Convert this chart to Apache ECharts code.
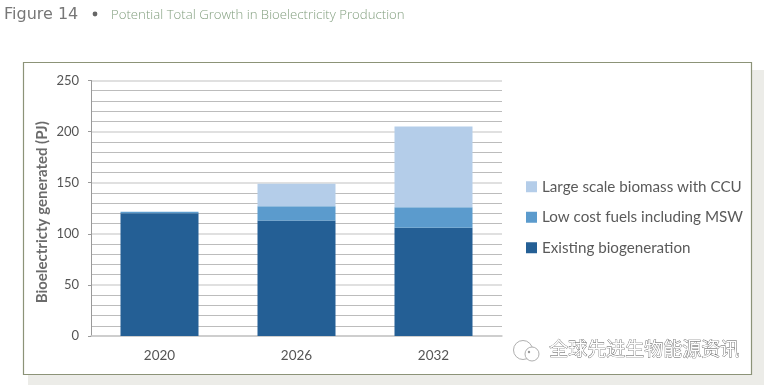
<!DOCTYPE html>
<html><head><meta charset="utf-8">
<style>html,body{margin:0;padding:0;background:#fff}#c{width:764px;height:385px}</style>
<script src="https://cdn.jsdelivr.net/npm/echarts@6/dist/echarts.min.js"></script>
</head><body><div id="c"></div>
<script>
const categories = ['2020','2026','2032'];
const existing = [120,113,106];
const lowCost = [1.5,14,20];
const largeScale = [0,22,79];
const seriesNames = ['Existing biogeneration','Low cost fuels including MSW','Large scale biomass with CCU'];
const legendOrder = ['Large scale biomass with CCU','Low cost fuels including MSW','Existing biogeneration'];
const chart = echarts.init(document.getElementById('c'));
const f = 'Lato, "Open Sans", sans-serif';
const bar = (name,data,color)=>({name,type:'bar',stack:'t',data,barWidth:78,itemStyle:{color},emphasis:{disabled:true}});
chart.setOption({
  animation:false,
  backgroundColor:'#ffffff',
  title:{text:'Potential Total Growth in Bioelectricity Production',left:106,top:4,
    textStyle:{fontFamily:'"Open Sans", sans-serif',fontSize:13.2,fontWeight:300,color:'#84a080'}},
  graphic:[
    {type:'rect',z:-3,shape:{x:28,y:70,width:736,height:315},style:{fill:'#ecece8'}},
    {type:'rect',z:-2,shape:{x:23.5,y:62.5,width:728,height:312},style:{fill:'#ffffff',stroke:'#8c9378',lineWidth:1.2}},
    {type:'text',left:4,top:7,style:{text:'Figure 14',font:'16px "DejaVu Sans", sans-serif',fill:'#777777'}},
    {type:'circle',shape:{cx:95,cy:14,r:2.4},style:{fill:'#666666'}},
    {type:'text',left:549,top:339,z:5,style:{text:'全球先进生物能源资讯',font:'19px "Noto Sans CJK SC", sans-serif',fill:'#ffffff',stroke:'#555555',lineWidth:0.7}},
    {type:'circle',z:5,shape:{cx:523,cy:350,r:9.5},style:{fill:'#fff',stroke:'#9a9a9a',lineWidth:0.8}},
    {type:'circle',z:5,shape:{cx:532,cy:354,r:7},style:{fill:'#fff',stroke:'#9a9a9a',lineWidth:0.8}},
    {type:'circle',z:5,shape:{cx:529,cy:352,r:1.2},style:{fill:'#999'}}
  ],
  grid:{left:91,top:80.5,width:411,height:255.5,containLabel:false},
  legend:{orient:'vertical',left:526,top:178,padding:0,itemWidth:11,itemHeight:11,itemGap:13,icon:'rect',
    data:legendOrder,selectedMode:false,
    textStyle:{fontFamily:f,fontSize:15.2,color:'#5a5a5a',lineHeight:17.5}},
  xAxis:{type:'category',data:categories,
    axisLine:{lineStyle:{color:'#c8c8c8',width:1.5}},axisTick:{show:false},
    axisLabel:{fontFamily:f,fontSize:13.5,color:'#555555',margin:13}},
  yAxis:{type:'value',min:0,max:250,interval:50,
    name:'Bioelectricty generated (PJ)',nameLocation:'middle',nameGap:41,nameMoveOverlap:false,
    nameTextStyle:{fontFamily:f,fontSize:15,fontWeight:'bold',color:'#6b6b6b',padding:[0,8,0,0]},
    axisLine:{show:true,lineStyle:{color:'#9a9a9a'}},
    axisTick:{show:true,length:3,lineStyle:{color:'#9a9a9a'}},
    minorTick:{show:false,splitNumber:5},
    axisLabel:{fontFamily:f,fontSize:13,color:'#555555',margin:12},
    splitLine:{show:true,lineStyle:{color:'#d6d6d6',width:1.5}},
    minorSplitLine:{show:true,lineStyle:{color:'#bcbcbc',width:1.2}}},
  series:[
    bar(seriesNames[0],existing,'#245f95'),
    bar(seriesNames[1],lowCost,'#5b9bcd'),
    bar(seriesNames[2],largeScale,'#b4cde9')
  ]
});
</script></body></html>
